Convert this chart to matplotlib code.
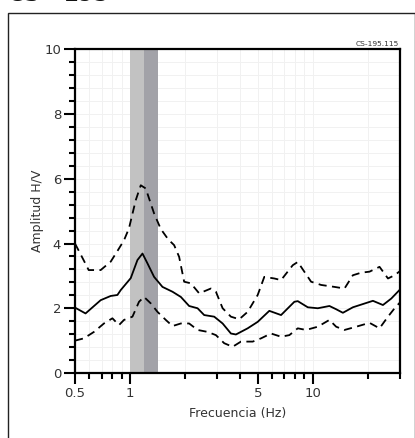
import matplotlib
matplotlib.use("Agg")
import matplotlib.pyplot as plt
from matplotlib.ticker import FixedLocator, NullFormatter, FixedFormatter
from matplotlib.patches import Rectangle

# ---- data ----
freq_mean = [0.50, 0.571, 0.691, 0.784, 0.853, 0.889, 1.009, 1.098, 1.170, 1.245, 1.354,
             1.505, 1.708, 1.897, 2.106, 2.342, 2.545, 2.888, 3.211, 3.565, 3.797, 4.402,
             4.995, 5.782, 6.704, 7.927, 8.275, 9.389, 10.65, 12.33, 13.42, 14.61, 16.57,
             18.80, 21.33, 24.20, 26.88, 30.0]
hv_mean = [2.02, 1.84, 2.25, 2.38, 2.41, 2.56, 2.93, 3.49, 3.69, 3.39, 2.97,
           2.66, 2.51, 2.35, 2.07, 2.00, 1.79, 1.74, 1.53, 1.22, 1.19, 1.38,
           1.58, 1.92, 1.79, 2.20, 2.22, 2.03, 2.00, 2.07, 1.97, 1.86, 2.03,
           2.13, 2.23, 2.10, 2.30, 2.58]

freq_upper = [0.50, 0.557, 0.594, 0.691, 0.784, 0.86, 0.927, 0.987, 1.075, 1.145, 1.219,
              1.354, 1.473, 1.603, 1.672, 1.743, 1.856, 1.978, 2.152, 2.390, 2.770, 2.951,
              3.211, 3.565, 3.959, 4.402, 4.995, 5.429, 6.160, 6.704, 7.769, 8.275, 9.788,
              11.11, 13.13, 14.91, 16.57, 18.41, 20.43, 23.18, 25.78, 28.03, 30.0]
hv_upper = [4.00, 3.49, 3.18, 3.18, 3.44, 3.80, 4.10, 4.47, 5.34, 5.80, 5.70,
            4.93, 4.45, 4.16, 4.05, 3.95, 3.59, 2.82, 2.77, 2.46, 2.61, 2.51,
            2.00, 1.74, 1.66, 1.89, 2.41, 2.97, 2.92, 2.87, 3.33, 3.43, 2.82,
            2.72, 2.66, 2.61, 3.02, 3.10, 3.13, 3.28, 2.92, 3.02, 3.15]

freq_lower = [0.50, 0.559, 0.635, 0.720, 0.801, 0.870, 0.927, 1.031, 1.120, 1.193, 1.299,
              1.413, 1.569, 1.708, 1.897, 2.106, 2.342, 2.657, 2.951, 3.276, 3.642, 4.045,
              4.690, 5.208, 5.908, 6.704, 7.442, 8.275, 9.191, 10.65, 12.33, 13.42, 14.91,
              17.28, 20.43, 23.18, 25.78, 28.03, 30.0]
hv_lower = [1.00, 1.07, 1.27, 1.53, 1.69, 1.48, 1.64, 1.74, 2.20, 2.35, 2.15,
            1.89, 1.64, 1.45, 1.53, 1.53, 1.33, 1.27, 1.17, 0.92, 0.81, 0.97,
            0.97, 1.07, 1.22, 1.12, 1.17, 1.38, 1.33, 1.43, 1.64, 1.43, 1.33,
            1.43, 1.55, 1.38, 1.74, 2.00, 2.18]

band_light = (1.0, 1.2)
band_dark = (1.2, 1.43)

x_major = [0.5, 1, 5, 10]
x_major_labels = ["0.5", "1", "5", "10"]
x_minor = [0.6, 0.7, 0.8, 0.9, 2, 3, 4, 6, 7, 8, 9, 20, 30]
y_major = [0, 2, 4, 6, 8, 10]
y_minor = [0.4, 0.8, 1.2, 1.6, 2.4, 2.8, 3.2, 3.6, 4.4, 4.8, 5.2, 5.6,
           6.4, 6.8, 7.2, 7.6, 8.4, 8.8, 9.2, 9.6]

station = "CS-195.115"
title_cut = "CS - 195"

# ---- figure ----
W, H = 415, 438
fig = plt.figure(figsize=(W / 100, H / 100), dpi=100)
plt.rcParams['font.family'] = ['DejaVu Sans']

# outer frame
fig.patches.append(Rectangle((7.5 / W, -0.05), (414.5 - 7.5) / W, 1.05 - 13.3 / H,
                             transform=fig.transFigure, fill=False,
                             edgecolor='#222222', linewidth=1.0))
fig.text(8 / W, 1 - 1.0 / H, title_cut, fontsize=15.5, fontweight='bold',
         ha='left', va='baseline', color='#111111')

ax = fig.add_axes([75 / W, 1 - 373 / H, 325 / W, (373 - 49.3) / H])
ax.set_xscale('log')
ax.set_xlim(0.5, 30)
ax.set_ylim(0, 10)

ax.axvspan(*band_light, color='#c2c2c2', lw=0, zorder=1)
ax.axvspan(*band_dark, color='#a2a2a8', lw=0, zorder=1)

ax.plot(freq_mean, hv_mean, color='black', lw=1.3, zorder=3)
ax.plot(freq_upper, hv_upper, color='black', lw=1.3, ls=(0, (4.5, 3)), zorder=3)
ax.plot(freq_lower, hv_lower, color='black', lw=1.3, ls=(0, (4.5, 3)), zorder=3)

ax.xaxis.set_major_locator(FixedLocator(x_major))
ax.xaxis.set_major_formatter(FixedFormatter(x_major_labels))
ax.xaxis.set_minor_locator(FixedLocator(x_minor))
ax.xaxis.set_minor_formatter(NullFormatter())
ax.yaxis.set_major_locator(FixedLocator(y_major))
ax.yaxis.set_minor_locator(FixedLocator(y_minor))

ax.grid(which='both', color='#f1f1f1', lw=0.7, zorder=0)
ax.set_axisbelow(True)

for s in ax.spines.values():
    s.set_linewidth(1.6)
    s.set_color('black')
ax.tick_params(which='major', direction='out', length=8, width=1.5, labelsize=9.5,
               colors='black', pad=2)
ax.tick_params(which='minor', direction='out', length=4.5, width=1.5)
for lab in ax.get_xticklabels() + ax.get_yticklabels():
    lab.set_color('#333333')

ax.set_xlabel("Frecuencia (Hz)", fontsize=9, color='#333333', labelpad=5)
ax.set_ylabel("Amplitud H/V", fontsize=9, color='#333333', labelpad=0)

fig.text(399 / W, 1 - 46 / H, station, fontsize=5.4, ha='right', va='baseline',
         color='#333333')

fig.savefig("out.png", dpi=100)
